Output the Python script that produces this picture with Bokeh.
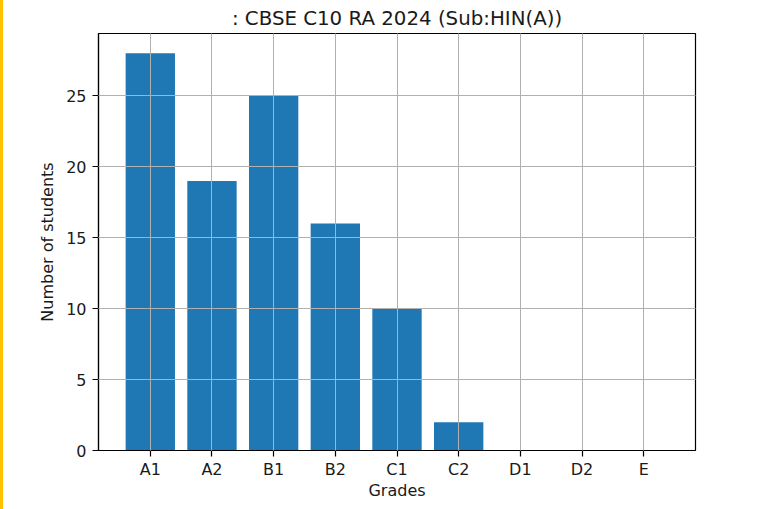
from bokeh.plotting import figure
from bokeh.models import Range1d, FixedTicker, Spacer
from bokeh.layouts import row
from bokeh.embed import file_html
from bokeh.resources import INLINE

grades = ["A1", "A2", "B1", "B2", "C1", "C2", "D1", "D2", "E"]
students = [28, 19, 25, 16, 10, 2, 0, 0, 0]
y_ticks = [0, 5, 10, 15, 20, 25]

xs = list(range(len(grades)))

p = figure(width=760, height=501, output_backend="svg", toolbar_location=None,
           x_range=Range1d(-0.84, len(grades) - 1 + 0.84),
           y_range=Range1d(0, max(students) * 1.05),
           frame_width=597, frame_height=417,
           min_border_left=95, min_border_right=68, min_border_top=33, min_border_bottom=51)

p.vbar(x=xs, top=students, width=0.8, color="#1f77b4", line_color=None)

p.title.text = ": CBSE C10 RA 2024 (Sub:HIN(A))"
p.title.align = "center"
p.title.text_font = "DejaVu Sans"
p.title.text_font_size = "19.8px"
p.title.text_font_style = "normal"
p.title.text_color = "#1a1a1a"
p.title.standoff = 7

p.xaxis.ticker = FixedTicker(ticks=xs)
p.xaxis.major_label_overrides = {i: g for i, g in enumerate(grades)}
p.yaxis.ticker = FixedTicker(ticks=y_ticks)
p.xaxis.axis_label = "Grades"
p.yaxis.axis_label = "Number of students"

for ax in (p.xaxis, p.yaxis):
    ax.axis_label_text_font = "DejaVu Sans"
    ax.axis_label_text_font_size = "16px"
    ax.axis_label_text_font_style = "normal"
    ax.axis_label_text_color = "#1a1a1a"
    ax.major_label_text_font = "DejaVu Sans"
    ax.major_label_text_font_size = "16px"
    ax.major_label_text_color = "#1a1a1a"
    ax.major_tick_in = 0
    ax.major_tick_out = 6
    ax.minor_tick_in = 0
    ax.minor_tick_out = 0
    ax.axis_line_color = "#000000"
    ax.major_tick_line_color = "#000000"
    ax.axis_line_width = 1.2
    ax.major_tick_line_width = 1.2

p.xaxis.major_label_standoff = 3
p.xaxis.axis_label_standoff = -1
p.yaxis.major_label_standoff = 6
p.yaxis.axis_label_standoff = 6

p.xgrid.ticker = FixedTicker(ticks=xs)
p.ygrid.ticker = FixedTicker(ticks=y_ticks)
for g in (p.xgrid, p.ygrid):
    g.grid_line_color = "#b0b0b0"
    g.grid_line_width = 1
    g.level = "overlay"

p.outline_line_color = "#000000"
p.outline_line_width = 1.2
p.background_fill_color = "white"
p.border_fill_color = "white"

edge = Spacer(width=3, height=509, styles={"background-color": "#ffc000"})

layout = row(edge, p, spacing=0)

open("out.html", "w").write(file_html(layout, INLINE))
